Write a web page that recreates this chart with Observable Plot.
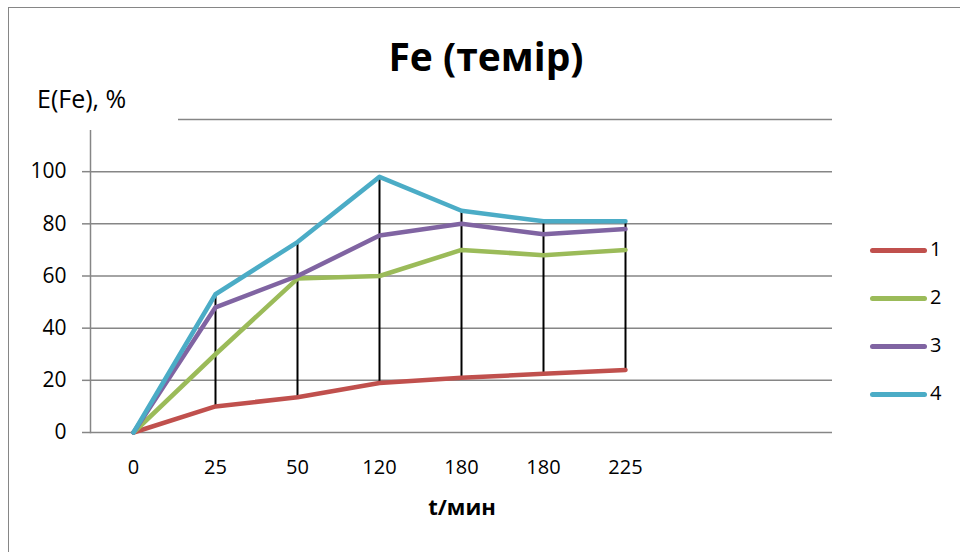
<!DOCTYPE html>
<html>
<head>
<meta charset="utf-8">
<script src="https://cdn.jsdelivr.net/npm/d3@7"></script>
<script src="https://cdn.jsdelivr.net/npm/@observablehq/plot@0.6"></script>
<style>
  html, body { margin: 0; padding: 0; background: #fff; }
  #chart { position: relative; width: 960px; height: 552px; font-family: "Open Sans", sans-serif; color: #000; }
  #chart svg { position: absolute; left: 0; top: 0; }
  .border { position: absolute; left: 8px; top: 7px; width: 1000px; height: 600px; border-left: 1.5px solid #868686; border-top: 1.5px solid #868686; box-sizing: border-box; }
  .title { position: absolute; left: 0; width: 972px; top: 29px; text-align: center; font-weight: bold; font-size: 39px; }
  .ylabel { position: absolute; left: 28px; top: 81px; width: 150px; height: 49px; background: #fff; font-size: 25px; padding-left: 9px; box-sizing: border-box; }
  .xlabel { position: absolute; left: 362px; width: 200px; top: 491px; text-align: center; font-weight: bold; font-size: 22px; }
  .legend { position: absolute; left: 870px; top: 236px; }
  .legend .item { height: 48px; display: flex; align-items: flex-start; }
  .legend .swatch { width: 57px; height: 4.5px; border-radius: 3px; margin-top: 12px; }
  .legend .lab { font-size: 20px; margin-left: 3px; line-height: 26px; }
</style>
</head>
<body>
<div id="chart">
  <div class="border"></div>
</div>
<script>
// Time categories (minutes); the last two slots of the axis are left empty
const timeLabels = ["0", "25", "50", "120", "180", "180", "225"];
const slotCount = 9;

// Extraction degree E(Fe), % for each series
const series1 = [0, 10, 13.5, 19, 21, 22.5, 24];
const series2 = [0, 30, 59, 60, 70, 68, 70];
const series3 = [0, 48, 60, 75.5, 80, 76, 78];
const series4 = [0, 53, 73, 98, 85, 81, 81];

const seriesNames = ["1", "2", "3", "4"];
const seriesColors = ["#C0504D", "#9BBB59", "#8064A2", "#4BACC6"];
const yTicks = [0, 20, 40, 60, 80, 100];

const allSeries = [series1, series2, series3, series4];
const rows = allSeries.flatMap((vals, s) =>
  vals.map((v, i) => ({ i, v, s: seriesNames[s] })));

// High–low spans across the four series at each time point
const hiLo = timeLabels.map((_, i) => {
  const vs = allSeries.map(a => a[i]);
  return { i, lo: d3.min(vs), hi: d3.max(vs) };
}).filter(d => d.hi > d.lo);

const grey = "#868686";

const plot = Plot.plot({
  width: 960,
  height: 552,
  marginLeft: 90,
  marginRight: 128,
  marginTop: 119,
  marginBottom: 120,
  style: { fontFamily: "'Open Sans', sans-serif", background: "transparent", color: "#000" },
  x: { type: "point", domain: d3.range(slotCount), padding: 0.5 },
  y: { domain: [0, 120] },
  marks: [
    Plot.ruleY([...yTicks, 120], { stroke: grey, strokeWidth: 1.5, strokeOpacity: 1 }),
    Plot.frame({ anchor: "left", stroke: grey, strokeWidth: 1.5 }),
    Plot.axisY({ ticks: yTicks, tickSize: 8, tickPadding: 16, stroke: grey, strokeWidth: 1.5, strokeOpacity: 1, fontSize: 21, label: null }),
    Plot.axisX({ ticks: d3.range(timeLabels.length), tickFormat: i => timeLabels[i], tickSize: 0, tickPadding: 27, fontSize: 20, label: null }),
    Plot.ruleX(hiLo, { x: "i", y1: "lo", y2: "hi", stroke: "#000", strokeWidth: 2 }),
    Plot.line(rows, {
      x: "i", y: "v", z: "s",
      stroke: d => seriesColors[seriesNames.indexOf(d.s)],
      strokeWidth: 4.5, strokeLinejoin: "round", strokeLinecap: "round"
    })
  ]
});

const chart = document.getElementById("chart");
chart.appendChild(plot);

const add = (cls, text) => {
  const el = document.createElement("div");
  el.className = cls;
  if (text != null) el.textContent = text;
  chart.appendChild(el);
  return el;
};
add("title", "Fe (темір)");
add("ylabel", "E(Fe), %");
add("xlabel", "t/мин");

const legend = add("legend");
seriesNames.forEach((name, k) => {
  const item = document.createElement("div");
  item.className = "item";
  const sw = document.createElement("div");
  sw.className = "swatch";
  sw.style.background = seriesColors[k];
  const lab = document.createElement("div");
  lab.className = "lab";
  lab.textContent = name;
  item.appendChild(sw);
  item.appendChild(lab);
  legend.appendChild(item);
});
</script>
</body>
</html>
